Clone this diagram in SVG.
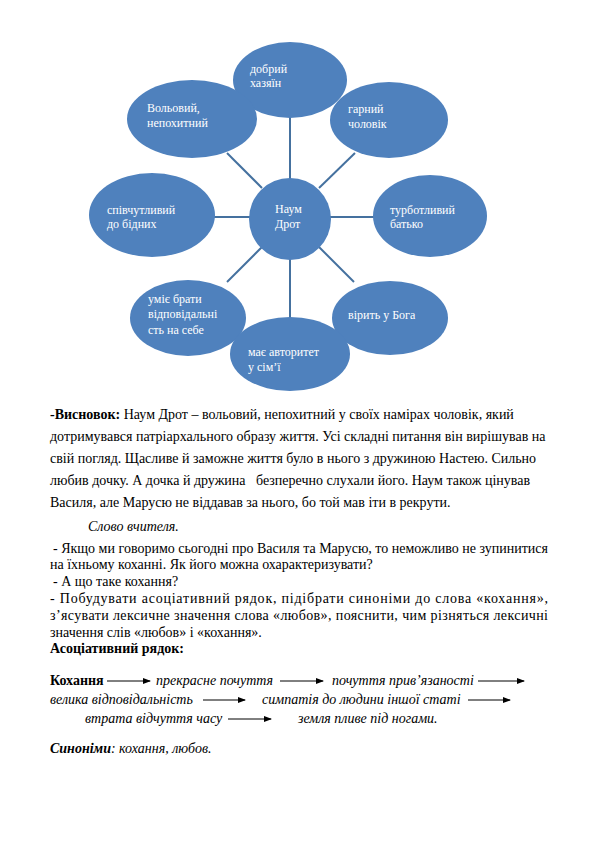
<svg xmlns="http://www.w3.org/2000/svg" width="595" height="842" viewBox="0 0 595 842">
<style>
.node ellipse, .node circle { fill: #4f81bd; }
.nt { font-family: 'Liberation Serif', 'DejaVu Serif', serif; font-size: 12px; fill: #ffffff; }
.conn line { stroke: #45719f; stroke-width: 2; }
.body text { font-family: 'Liberation Serif', 'DejaVu Serif', serif; font-size: 14px; fill: #000; }
.b { font-weight: bold; }
.i { font-style: italic; }
.arr { stroke: #000; stroke-width: 1; marker-end: url(#ah); }
</style>
<defs>
<marker id="ah" markerWidth="8" markerHeight="6" refX="7" refY="3" orient="auto" markerUnits="userSpaceOnUse">
<path d="M0,0 L8,3 L0,6 z" fill="#000"/>
</marker>
</defs>
<rect width="595" height="842" fill="#fff"/>

<g id="connectors" class="conn">
<line x1="290" y1="117" x2="290" y2="179"/>
<line x1="227" y1="153" x2="262" y2="188"/>
<line x1="355" y1="153" x2="319" y2="188"/>
<line x1="214" y1="217" x2="250" y2="217"/>
<line x1="330" y1="217" x2="374" y2="217"/>
<line x1="262" y1="247" x2="227" y2="282"/>
<line x1="319" y1="247" x2="354" y2="282"/>
<line x1="290" y1="259" x2="290" y2="318"/>
</g>

<g id="n-top" class="node"><ellipse cx="290" cy="80" rx="57" ry="38"/>
<text class="nt" x="250" y="73">добрий</text><text class="nt" x="250" y="87">хазяїн</text></g>
<g id="n-upleft" class="node"><ellipse cx="192" cy="119" rx="65" ry="39"/>
<text class="nt" x="147" y="112">Вольовий,</text><text class="nt" x="147" y="127">непохитний</text></g>
<g id="n-upright" class="node"><ellipse cx="389" cy="120" rx="59" ry="38"/>
<text class="nt" x="348" y="113">гарний</text><text class="nt" x="348" y="128">чоловік</text></g>
<g id="n-center" class="node"><circle cx="290" cy="219" r="41"/>
<text class="nt" x="275" y="213">Наум</text><text class="nt" x="275" y="228">Дрот</text></g>
<g id="n-left" class="node"><ellipse cx="152" cy="215" rx="63" ry="42"/>
<text class="nt" x="107" y="214">співчутливий</text><text class="nt" x="107" y="228">до бідних</text></g>
<g id="n-right" class="node"><ellipse cx="430" cy="216" rx="57" ry="41"/>
<text class="nt" x="390" y="214">турботливий</text><text class="nt" x="390" y="228">батько</text></g>
<g id="n-lowleft" class="node"><ellipse cx="188" cy="318" rx="58" ry="38"/>
<text class="nt" x="148" y="303">уміє брати</text><text class="nt" x="148" y="318">відповідальні</text><text class="nt" x="148" y="334">сть на себе</text></g>
<g id="n-lowright" class="node"><ellipse cx="390" cy="318" rx="58" ry="37"/>
<text class="nt" x="348" y="319">вірить у Бога</text></g>
<g id="n-bottom" class="node"><ellipse cx="290" cy="354" rx="60" ry="37"/>
<text class="nt" x="248" y="356">має авторитет</text><text class="nt" x="248" y="371">у сім’ї</text></g>

<g id="text-conclusion" class="body">
<text x="50" y="419"><tspan class="b">-Висновок:</tspan> Наум Дрот – вольовий, непохитний у своїх намірах чоловік, який</text>
<text x="50" y="441">дотримувався патріархального образу життя. Усі складні питання він вирішував на</text>
<text x="50" y="463">свій погляд. Щасливе й заможне життя було в нього з дружиною Настею. Сильно</text>
<text x="50" y="485" xml:space="preserve">любив дочку. А дочка й дружина   безперечно слухали його. Наум також цінував</text>
<text x="50" y="507">Василя, але Марусю не віддавав за нього, бо той мав іти в рекрути.</text>
</g>

<g id="text-teacher" class="body">
<text x="88" y="531" class="i">Слово вчителя.</text>
<text x="53" y="553" textLength="495" lengthAdjust="spacing">- Якщо ми говоримо сьогодні про Василя та Марусю, то неможливо не зупинитися</text>
<text x="50" y="569">на їхньому коханні. Як його можна охарактеризувати?</text>
<text x="53" y="586">- А що таке кохання?</text>
<text x="50" y="603" textLength="498" lengthAdjust="spacing">- Побудувати асоціативний рядок, підібрати синоніми до слова «кохання»,</text>
<text x="50" y="620" textLength="498" lengthAdjust="spacing">з’ясувати лексичне значення слова «любов», пояснити, чим різняться лексичні</text>
<text x="50" y="637">значення слів «любов» і «кохання».</text>
<text x="50" y="653" class="b">Асоціативний рядок:</text>
</g>

<g id="assoc" class="body">
<text x="50" y="685" class="b">Кохання</text>
<line class="arr" x1="107" y1="681" x2="150" y2="681"/>
<text x="156" y="685" class="i">прекрасне почуття</text>
<line class="arr" x1="280" y1="681" x2="323" y2="681"/>
<text x="332" y="685" class="i">почуття прив’язаності</text>
<line class="arr" x1="478" y1="681" x2="524" y2="681"/>
<text x="50" y="704" class="i">велика відповідальність</text>
<line class="arr" x1="203" y1="700" x2="245" y2="700"/>
<text x="262" y="704" class="i">симпатія до людини іншої статі</text>
<line class="arr" x1="468" y1="700" x2="510" y2="700"/>
<text x="85" y="723" class="i">втрата відчуття часу</text>
<line class="arr" x1="228" y1="719" x2="271" y2="719"/>
<text x="298" y="723" class="i">земля пливе під ногами.</text>
<text x="50" y="753"><tspan class="b i">Синоніми</tspan><tspan class="i">: кохання, любов.</tspan></text>
</g>
</svg>
